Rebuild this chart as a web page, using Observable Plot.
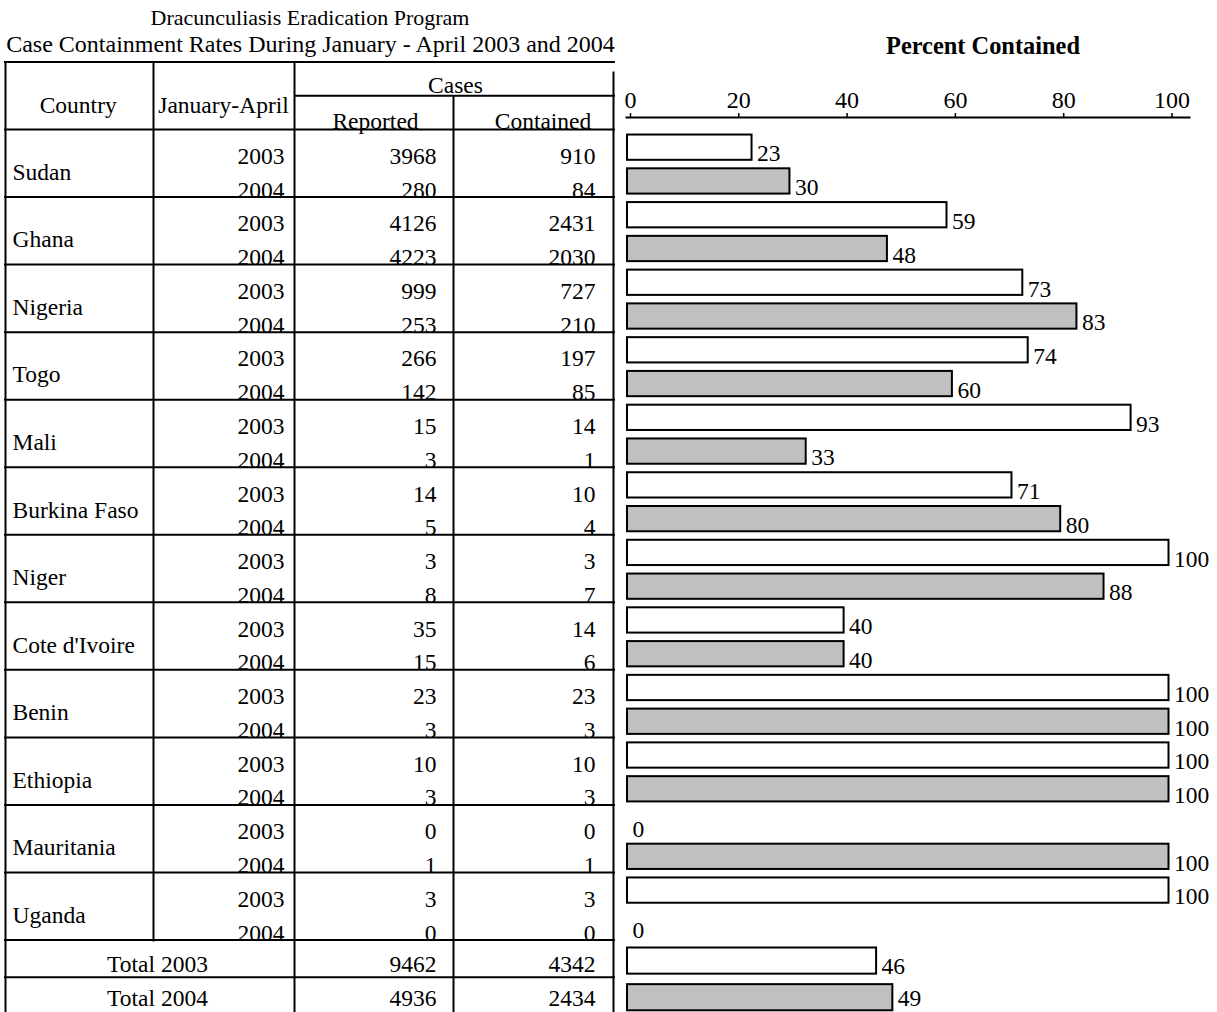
<!DOCTYPE html>
<html>
<head>
<meta charset="utf-8">
<script src="https://cdn.jsdelivr.net/npm/d3@7"></script>
<script src="https://cdn.jsdelivr.net/npm/@observablehq/plot@0.6"></script>
<style>
html, body { margin: 0; padding: 0; background: #fff; }
#wrap { position: relative; width: 1217px; height: 1012px; overflow: hidden;
  font-family: "Liberation Serif", "Times New Roman", serif; color: #000; }
#wrap svg { position: absolute; left: 0; top: 0; }
.t { position: absolute; white-space: nowrap; font-size: 23px; line-height: 23px; transform: translateX(-50%); }
</style>
</head>
<body>
<div id="wrap">
  <div class="t" id="title1" style="left:310px; top:6.5px; font-size:22px; line-height:22px;">Dracunculiasis Eradication Program</div>
  <div class="t" id="title2" style="left:310.5px; top:31.5px; font-size:24px; line-height:24px;">Case Containment Rates During January - April 2003 and 2004</div>
  <div class="t" id="title3" style="left:983px; top:33.5px; font-size:24.4px; line-height:24px; font-weight:bold;">Percent Contained</div>
</div>
<script>
// ---------- data ----------
const countries = ["Sudan", "Ghana", "Nigeria", "Togo", "Mali", "Burkina Faso", "Niger",
  "Cote d'Ivoire", "Benin", "Ethiopia", "Mauritania", "Uganda"];
const years = ["2003", "2004"];
const reported2003  = [3968, 4126, 999, 266, 15, 14, 3, 35, 23, 10, 0, 3];
const reported2004  = [280, 4223, 253, 142, 3, 5, 8, 15, 3, 3, 1, 0];
const contained2003 = [910, 2431, 727, 197, 14, 10, 3, 14, 23, 10, 0, 3];
const contained2004 = [84, 2030, 210, 85, 1, 4, 7, 6, 3, 3, 1, 0];
const pct2003 = [23, 59, 73, 74, 93, 71, 100, 40, 100, 100, 0, 100];
const pct2004 = [30, 48, 83, 60, 33, 80, 88, 40, 100, 100, 100, 0];
const totalLabels = ["Total 2003", "Total 2004"];
const totalReported = [9462, 4936];
const totalContained = [4342, 2434];
const totalPct = [46, 49];
const headerLabels = ["Country", "January-April", "Cases", "Reported", "Contained"];
const percentTicks = [0, 20, 40, 60, 80, 100];

// ---------- layout (pixels / styling only) ----------
const FONT = "Liberation Serif";
const FS = 23.5;
const W = 1217, H = 1012;
const TOTAL_SPAN = 1.1;          // total rows are slightly taller than country sub-rows
const totalDy = [-5.6, -8];      // baseline offsets of the two total rows
const totalLabelDy = [8, 3];     // value-label offsets of the two total bars
const col = {left: 5, c1: 153, c2: 294, c3: 453, c4: 613, right: 615,
  countryX: 12, yearR: 284, repR: 436, conR: 595, totalC: 157};
const headerPos = {
  "Country":       {x: 77.7, y: 2, dy: -16.7},
  "January-April": {x: 223, y: 2, dy: -16.7},
  "Cases":         {x: 455, y: 1, dy: -2.3},
  "Reported":      {x: 375, y: 2, dy: -1},
  "Contained":     {x: 542.5, y: 2, dy: -1}
};

// ---------- table structure built from data ----------
// row units: header occupies rows 0..2, each country has 2 sub-rows, then totals
const rows = [];
countries.forEach((c, i) => {
  years.forEach((y, j) => {
    rows.push({
      country: c, year: y, row: 2 + 2 * i + j, span: 1,
      reported: j ? reported2004[i] : reported2003[i],
      contained: j ? contained2004[i] : contained2003[i],
      pct: j ? pct2004[i] : pct2003[i]
    });
  });
});
const bodyEnd = 2 + 2 * countries.length;     // 26
const groups = countries.map((c, i) => ({country: c, row: 2 + 2 * i}));
const totals = totalLabels.map((t, k) => ({
  label: t, year: years[k], row: bodyEnd + TOTAL_SPAN * k, span: TOTAL_SPAN,
  reported: totalReported[k], contained: totalContained[k], pct: totalPct[k]
}));
const tableEnd = bodyEnd + TOTAL_SPAN * totals.length;
const hLines = [0, 2, ...groups.map(g => g.row + 2), ...totals.slice(0, -1).map(t => t.row + t.span)];

const yScale = () => ({domain: [0, bodyEnd], range: [61.5, 939.5], axis: null});
const svgStyle = {fontFamily: FONT, fontSize: FS + "px", background: "transparent", overflow: "visible", color: "#000"};
const K = {stroke: "black", strokeWidth: 2};

// ---------- table plot ----------
const table = Plot.plot({
  width: W, height: H, margin: 0,
  x: {domain: [0, W], range: [0, W], axis: null},
  y: yScale(),
  style: svgStyle,
  marks: [
    // horizontal rules
    Plot.ruleY(hLines, {y: d => d, x1: col.left - 1, x2: col.right, ...K}),
    Plot.ruleY([1], {y: d => d, x1: col.c2, x2: col.right, ...K}),
    // vertical rules
    Plot.ruleX([col.left], {x: d => d, y1: 0, y2: tableEnd, ...K}),
    Plot.ruleX([col.c1], {x: d => d, y1: 0, y2: bodyEnd, insetBottom: -2, ...K}),
    Plot.ruleX([col.c2], {x: d => d, y1: 0, y2: tableEnd, ...K}),
    Plot.ruleX([col.c3], {x: d => d, y1: 1, y2: tableEnd, ...K}),
    Plot.ruleX([col.c4], {x: d => d, y1: 0, y2: tableEnd, insetTop: 10, ...K}),
    // header
    ...headerLabels.map(h => Plot.text([h], {
      x: () => headerPos[h].x, y: () => headerPos[h].y, text: d => d,
      textAnchor: "middle", lineAnchor: "bottom", dy: headerPos[h].dy, fill: "black"
    })),
    // country names
    Plot.text(groups, {x: () => col.countryX, y: d => d.row + 1, text: "country",
      textAnchor: "start", lineAnchor: "bottom", dy: 16.5, fill: "black"}),
    // year / reported / contained
    Plot.text(rows, {x: () => col.yearR, y: d => d.row + 1, text: "year",
      textAnchor: "end", lineAnchor: "bottom", dy: 0.5, fill: "black"}),
    Plot.text(rows, {x: () => col.repR, y: d => d.row + 1, text: d => String(d.reported),
      textAnchor: "end", lineAnchor: "bottom", dy: 0.5, fill: "black"}),
    Plot.text(rows, {x: () => col.conR, y: d => d.row + 1, text: d => String(d.contained),
      textAnchor: "end", lineAnchor: "bottom", dy: 0.5, fill: "black"}),
    // totals
    ...totals.map((t, k) => [
      Plot.text([t], {x: () => col.totalC, y: d => d.row + d.span, text: "label",
        textAnchor: "middle", lineAnchor: "bottom", dy: totalDy[k], fill: "black"}),
      Plot.text([t], {x: () => col.repR, y: d => d.row + d.span, text: d => String(d.reported),
        textAnchor: "end", lineAnchor: "bottom", dy: totalDy[k], fill: "black"}),
      Plot.text([t], {x: () => col.conR, y: d => d.row + d.span, text: d => String(d.contained),
        textAnchor: "end", lineAnchor: "bottom", dy: totalDy[k], fill: "black"})
    ]).flat()
  ]
});

// ---------- bar plot ----------
const bars2003 = rows.filter(d => d.year === "2003");
const bars2004 = rows.filter(d => d.year === "2004");
const barMark = (data, fill, insetTop, insetBottom) => Plot.rectX(data.filter(d => d.pct > 0), {
  x1: 0, x2: "pct", y1: "row", y2: d => d.row + d.span,
  insetTop, insetBottom, fill, ...K
});
const labelMark = (data, dy) => Plot.text(data, {x: "pct", y: d => d.row + d.span / 2,
  text: d => String(d.pct), textAnchor: "start", lineAnchor: "middle", dx: 5, dy, fill: "black"});
const chart = Plot.plot({
  width: W, height: H,
  marginTop: 117, marginLeft: 626, marginRight: 28, marginBottom: 0,
  x: {domain: [0, 100], range: [627, 1168.5]},
  y: yScale(),
  style: svgStyle,
  marks: [
    Plot.frame({anchor: "top", ...K}),
    Plot.axisX(percentTicks, {anchor: "top", label: null, tickSize: 5, tickPadding: 4.5,
      tickFormat: d => String(d), stroke: "black", strokeWidth: 1.5, fill: "black",
      dx: 3, fontSize: 24, fontFamily: FONT}),
    barMark(bars2003, "white", 5.5, 3),
    barMark(bars2004, "#c0c0c0", 5.5, 3),
    barMark(totals.filter(d => d.year === "2003"), "white", 8, 3),
    barMark(totals.filter(d => d.year === "2004"), "#c0c0c0", 7.5, 3.5),
    labelMark(rows, 7.5),
    ...totals.map((t, k) => labelMark([t], totalLabelDy[k]))
  ]
});

const wrap = document.getElementById("wrap");
wrap.appendChild(table);
wrap.appendChild(chart);
</script>
</body>
</html>
